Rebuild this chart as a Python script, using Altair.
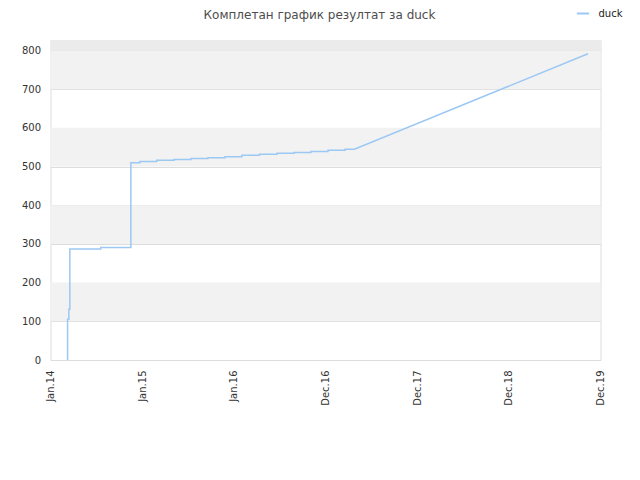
import altair as alt
import pandas as pd

# ---- data ----
dates = ["2014-03-10", "2014-03-10", "2014-03-15", "2014-03-15", "2014-03-19", "2014-03-19",
         "2014-07-20", "2014-07-20", "2014-11-17", "2014-11-17", "2014-12-23", "2014-12-23",
         "2015-02-28", "2015-02-28", "2015-05-08", "2015-05-08", "2015-07-14", "2015-07-14",
         "2015-09-20", "2015-09-20", "2015-11-27", "2015-11-27", "2016-02-02", "2016-02-02",
         "2016-04-12", "2016-04-12", "2016-06-21", "2016-06-21", "2016-08-28", "2016-08-28",
         "2016-11-03", "2016-11-03", "2017-01-10", "2017-01-10", "2017-03-19", "2017-03-19",
         "2017-04-25", "2019-11-11"]
values = [0, 105, 105, 131, 131, 287, 287, 290.5, 290.5, 510,
          510, 513, 513, 516, 516, 518, 518, 520.5, 520.5, 523,
          523, 525.5, 525.5, 529, 529, 531.5, 531.5, 534, 534, 536.5,
          536.5, 539, 539, 542, 542, 544.5, 544.5, 791.5]
series_name = "duck"

tick_dates = [(2014, 1, 1), (2015, 1, 1), (2016, 1, 1), (2016, 12, 31),
              (2017, 12, 31), (2018, 12, 31), (2019, 12, 31)]
y_ticks = [0, 100, 200, 300, 400, 500, 600, 700, 800]

band_lo = [100, 300, 500, 700, 800]
band_hi = [200, 400, 600, 800, 827]
band_kind = ["a", "a", "a", "a", "b"]

title_text = "Комплетан график резултат за duck"

# ---- tables ----
df = pd.DataFrame({"date": dates, "value": values, "series": series_name,
                   "idx": list(range(len(dates)))})
bands = pd.DataFrame({"lo": band_lo, "hi": band_hi, "kind": band_kind})

x_domain = [alt.DateTime(year=2014, month=1, date=1, utc=True),
            alt.DateTime(year=2019, month=12, date=31, utc=True)]
x_values = [alt.DateTime(year=y, month=m, date=d, utc=True) for (y, m, d) in tick_dates]

y_scale = alt.Scale(domain=[0, 827], nice=False, zero=True)
y_axis = alt.Axis(values=y_ticks, ticks=False, domain=False, grid=True,
                  gridColor="#dddddd", title=None, labelPadding=10, labelOverlap=False,
                  labelFont="DejaVu Sans", labelFontSize=10, labelColor="#333333")

band_layer = alt.Chart(bands).mark_rect().encode(
    x=alt.value(0),
    x2=alt.value("width"),
    y=alt.Y("lo:Q", scale=y_scale, axis=y_axis),
    y2="hi:Q",
    color=alt.Color("kind:N", scale=alt.Scale(domain=["a", "b"], range=["#f2f2f2", "#ebebeb"]),
                    legend=None),
)

line_layer = alt.Chart(df).mark_line(strokeWidth=1.5).encode(
    x=alt.X("date:T",
            scale=alt.Scale(type="utc", domain=x_domain),
            axis=alt.Axis(values=x_values, format="%b.%y", labelAngle=270, labelAlign="right",
                          labelBaseline="middle", labelPadding=10, ticks=False, grid=False,
                          domain=False, title=None, labelFont="DejaVu Sans", labelFontSize=10,
                          labelColor="#333333", labelOverlap=False)),
    y=alt.Y("value:Q", scale=y_scale, axis=y_axis),
    order="idx:Q",
    color=alt.Color("series:N", scale=alt.Scale(range=["#9cc8f4"]),
                    legend=alt.Legend(title=None, orient="none", legendX=525, legendY=-34,
                                      symbolType="stroke", symbolSize=150, symbolStrokeWidth=2,
                                      labelFont="DejaVu Sans", labelFontSize=10,
                                      labelColor="#222222", labelOffset=8)),
)

chart = alt.layer(band_layer, line_layer).resolve_scale(color="independent").properties(
    width=550,
    height=320,
    autosize=alt.AutoSizeParams(type="none"),
    padding={"left": 42.5, "top": 32, "right": 31, "bottom": 100},
    title=alt.TitleParams(title_text, font="DejaVu Sans", fontSize=12, fontWeight="normal",
                          color="#4d4d4d", anchor="middle", baseline="alphabetic", offset=0,
                          dy=25, dx=-6),
).configure_view(stroke="#dddddd", strokeWidth=1)

chart.save("out.html", embed_options={"renderer": "svg", "actions": False})
